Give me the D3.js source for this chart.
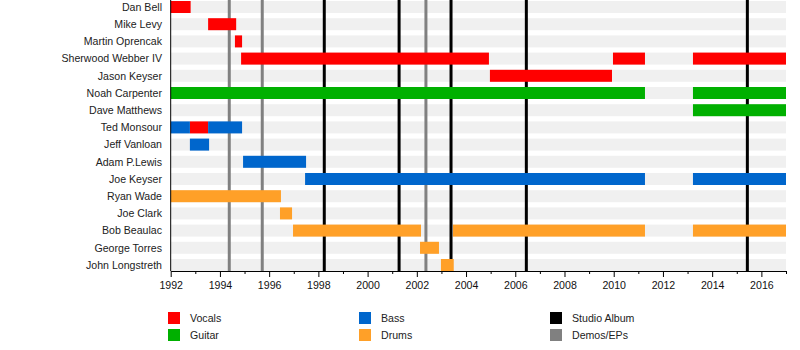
<!DOCTYPE html>
<html><head><meta charset="utf-8">
<script src="https://cdn.jsdelivr.net/npm/d3@7"></script>
<style>body{margin:0;background:#fff}svg{display:block;font-family:"Liberation Sans",Arial,sans-serif}</style>
</head><body><svg id="c" width="800" height="350"></svg>
<script>
const members = ["Dan Bell","Mike Levy","Martin Oprencak","Sherwood Webber IV","Jason Keyser","Noah Carpenter","Dave Matthews","Ted Monsour","Jeff Vanloan","Adam P.Lewis","Joe Keyser","Ryan Wade","Joe Clark","Bob Beaulac","George Torres","John Longstreth"];
const vocals = [["Dan Bell",1992,1992.81],["Mike Levy",1993.52,1994.66],["Martin Oprencak",1994.61,1994.9],["Sherwood Webber IV",1994.86,2004.93],["Sherwood Webber IV",2009.97,2011.27],["Sherwood Webber IV",2013.22,2017],["Jason Keyser",2004.97,2009.93],["Ted Monsour",1992.78,1993.52]];
const guitar = [["Noah Carpenter",1992,2011.27],["Noah Carpenter",2013.22,2017],["Dave Matthews",2013.22,2017]];
const bass = [["Ted Monsour",1992,1992.78],["Ted Monsour",1993.52,1994.9],["Jeff Vanloan",1992.78,1993.56],["Adam P.Lewis",1994.94,1997.5],["Joe Keyser",1997.46,2011.27],["Joe Keyser",2013.22,2017]];
const drums = [["Ryan Wade",1992,1996.48],["Joe Clark",1996.44,1996.93],["Bob Beaulac",1996.97,2002.17],["Bob Beaulac",2003.47,2011.27],["Bob Beaulac",2013.22,2017],["George Torres",2002.13,2002.9],["John Longstreth",2002.98,2003.5]];
const studioAlbums = [1998.24,2001.28,2003.39,2006.45,2015.43];
const demos = [1994.38,1995.72,2002.37];
const majorTicks = [1992,1994,1996,1998,2000,2002,2004,2006,2008,2010,2012,2014,2016];
const minorTicks = [1993,1995,1997,1999,2001,2003,2005,2007,2009,2011,2013,2015,2017];
const legendLabels = ["Vocals","Guitar","Bass","Drums","Studio Album","Demos/EPs"];
const colors = {Vocals:"#ff0000",Guitar:"#00b000",Bass:"#0066cc",Drums:"#ffa028","Studio Album":"#000000","Demos/EPs":"#808080"};

const svg = d3.select("#c");
const x = d3.scaleLinear().domain([1992,2017]).range([170.7,786]);
const y = d3.scaleBand().domain(members).range([1,271]).paddingInner(0.302).paddingOuter(0);
const axisY = 271;

// background stripes
svg.append("g").selectAll("rect").data(members).join("rect")
  .attr("x",x(1992)).attr("width",x(2017)-x(1992))
  .attr("y",d=>y(d)).attr("height",y.bandwidth()).attr("fill","#f0f0f0");

// vertical lines
svg.append("g").selectAll("line").data(demos).join("line")
  .attr("x1",d=>x(d)).attr("x2",d=>x(d)).attr("y1",0).attr("y2",axisY)
  .attr("stroke","#808080").attr("stroke-width",3);
svg.append("g").selectAll("line").data(studioAlbums).join("line")
  .attr("x1",d=>x(d)).attr("x2",d=>x(d)).attr("y1",0).attr("y2",axisY)
  .attr("stroke","#000").attr("stroke-width",3);

// bars
const groups = [["Vocals",vocals],["Guitar",guitar],["Bass",bass],["Drums",drums]];
groups.forEach(([role,arr])=>{
  svg.append("g").selectAll("rect").data(arr).join("rect")
    .attr("x",d=>x(d[1])).attr("width",d=>x(d[2])-x(d[1]))
    .attr("y",d=>y(d[0])).attr("height",y.bandwidth())
    .attr("fill",colors[role]);
});

// member labels
svg.append("g").selectAll("text").data(members).join("text")
  .attr("x",162).attr("y",d=>y(d)+y.bandwidth()/2).attr("dy","0.35em")
  .attr("text-anchor","end").attr("font-size",10.6).attr("fill","#222").text(d=>d);

// left axis line
svg.append("line").attr("x1",x(1992)).attr("x2",x(1992)).attr("y1",0).attr("y2",axisY)
  .attr("stroke","#000").attr("stroke-width",1);

// bottom axis
const gx = svg.append("g").attr("transform",`translate(0,${axisY})`);
gx.call(d3.axisBottom(x).tickValues(majorTicks).tickFormat(d3.format("d")).tickSize(6).tickSizeOuter(0).tickPadding(4));
gx.select(".domain").attr("stroke","#000");
gx.selectAll("text").attr("font-size",10.6).attr("font-family","Liberation Sans, Arial, sans-serif").attr("fill","#111");
const gm = svg.append("g").attr("transform",`translate(0,${axisY})`);
gm.call(d3.axisBottom(x).tickValues(minorTicks).tickFormat("").tickSize(3).tickSizeOuter(0));
gm.select(".domain").remove();

// legend
const legX = [168,359,550];
const leg = svg.append("g");
legendLabels.forEach((lab,i)=>{
  const col = Math.floor(i/2), row = i%2;
  const gx0 = legX[col], gy0 = 312 + row*17;
  leg.append("rect").attr("x",gx0).attr("y",gy0).attr("width",12).attr("height",12).attr("fill",colors[lab]);
  leg.append("text").attr("x",gx0+22).attr("y",gy0+6).attr("dy","0.35em")
    .attr("font-size",10.6).attr("fill","#222").text(lab);
});
</script></body></html>
